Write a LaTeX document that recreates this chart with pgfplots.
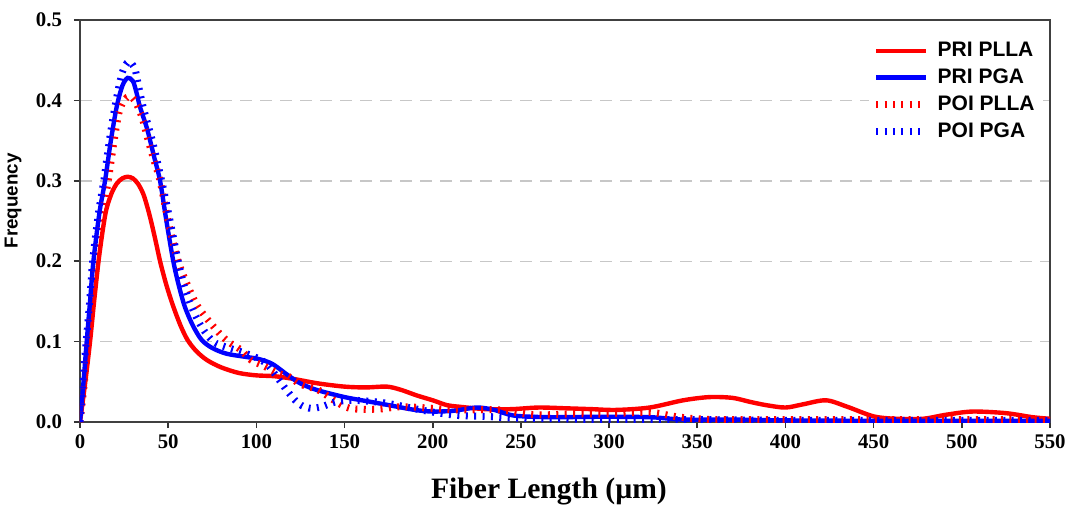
\documentclass[border=0pt]{standalone}
\usepackage{fontspec}
\setmainfont{Liberation Serif}
\setsansfont{Liberation Sans}
\usepackage{pgfplots}
\pgfplotsset{compat=1.18}
\definecolor{pred}{RGB}{255,0,0}
\definecolor{pblue}{RGB}{0,0,255}
\begin{document}
\begin{tikzpicture}
\begin{axis}[name=ax, scale only axis, width=485pt, height=201pt,
  xmin=0, xmax=550, ymin=0, ymax=0.5,
  xtick={0,50,100,150,200,250,300,350,400,450,500,550},
  ytick={0,0.1,0.2,0.3,0.4,0.5},
  tick align=outside, xtick pos=left, ytick pos=left,
  major tick length=3pt,
  tick style={black!80, line width=0.8pt},
  axis line style={black!75, line width=0.9pt},
  ymajorgrids, grid style={black!22, dash pattern=on 6pt off 4pt, line width=0.7pt},
  ticklabel style={font=\bfseries\fontsize{10.4}{12}\selectfont},
  /pgf/number format/assume math mode=true,
  yticklabel style={xshift=-2.5pt, /pgf/number format/.cd, fixed, fixed zerofill, precision=1},
  xlabel={Fiber Length (µm)}, ylabel={Frequency},
  xlabel style={font=\bfseries\fontsize{14.8}{16}\selectfont, at={(axis description cs:0.4835,-0.172)}, anchor=center},
  ylabel style={font=\sffamily\bfseries\fontsize{9.4}{11}\selectfont, at={(axis description cs:-0.069,0.55)}, anchor=center},
  legend style={at={(axis cs:546,0.483)}, anchor=north east, draw=none, fill=white,
    font=\sffamily\bfseries\fontsize{10.5}{12}\selectfont, row sep=0.6pt, inner sep=2pt},
  legend cell align=left,
  legend image code/.code={\draw[#1] (0pt,0pt) -- (25pt,0pt);},
  /tikz/every odd column/.append style={column sep=2pt},
  solid/.style={line width=2.2pt},
  dots/.style={line width=3.5pt, dash pattern=on 1pt off 3.2pt},
]
\addplot[pred, solid, smooth, tension=0.5] coordinates {
(0,0) (3,0.05) (5.7,0.1) (8,0.15) (10.5,0.2) (13,0.24) (15,0.265) (18,0.285) (21,0.297) (24,0.303) (27,0.305) (30,0.303) (33,0.296) (36,0.283) (38.5,0.265) (40.6,0.247) (43,0.224) (45.4,0.2) (48,0.178) (50,0.163) (53,0.143) (57,0.12) (61,0.102) (66,0.088) (72,0.077) (80,0.068) (90,0.061) (100,0.058) (110,0.057) (120,0.054) (135,0.048) (150,0.044) (162,0.043) (174,0.044) (182,0.04) (191,0.033) (200,0.027) (208,0.021) (215,0.019) (230,0.016) (245,0.016) (260,0.018) (276,0.017) (290,0.016) (304,0.015) (323,0.018) (342,0.027) (357,0.031) (370,0.03) (380,0.025) (389,0.021) (400,0.018) (410,0.022) (423,0.027) (435,0.019) (450,0.007) (463,0.004) (478,0.004) (491,0.009) (506,0.013) (525,0.011) (540,0.006) (550,0.004)
};
\addlegendentry{PRI PLLA}
\addplot[pblue, solid, smooth, tension=0.5] coordinates {
(0,0) (2,0.05) (3.8,0.1) (5.7,0.15) (7.6,0.2) (11,0.26) (14.2,0.3) (17.5,0.35) (20.8,0.392) (24,0.418) (27,0.428) (30,0.424) (32,0.41) (34,0.392) (38,0.365) (42,0.33) (45.4,0.3) (49,0.25) (52.9,0.2) (56,0.17) (59.5,0.143) (64,0.12) (69,0.102) (75,0.092) (83,0.085) (94,0.081) (100,0.079) (105,0.076) (110,0.071) (118,0.058) (125,0.048) (134,0.04) (150,0.031) (165,0.025) (175,0.021) (190,0.015) (200,0.013) (212,0.014) (225,0.018) (235,0.015) (246,0.008) (266,0.006) (295,0.0065) (323,0.006) (342,0.003) (370,0.003) (400,0.002) (450,0.0015) (500,0.0015) (550,0.0015)
};
\addlegendentry{PRI PGA}
\addplot[pred, dots, smooth, tension=0.5] coordinates {
(0,0) (2.5,0.05) (4.5,0.1) (7,0.15) (9.5,0.2) (13,0.26) (16,0.3) (19,0.345) (22,0.384) (25,0.4) (28,0.405) (31,0.4) (35,0.38) (38.7,0.35) (42,0.325) (45.4,0.3) (50,0.25) (55.7,0.2) (61,0.17) (67,0.143) (77.5,0.114) (84,0.1) (91,0.09) (97,0.077) (104,0.07) (113,0.06) (118,0.057) (125,0.047) (135,0.04) (144,0.027) (153,0.017) (169,0.016) (182,0.019) (200,0.017) (215,0.015) (238,0.015) (257,0.009) (280,0.01) (300,0.01) (323,0.012) (340,0.006) (360,0.003) (400,0.003) (450,0.003) (500,0.003) (550,0.003)
};
\addlegendentry{POI PLLA}
\addplot[pblue, dots, smooth, tension=0.5] coordinates {
(0,0) (2,0.06) (3.5,0.1) (5.5,0.15) (7.2,0.2) (10.5,0.26) (13.5,0.3) (17,0.355) (20.5,0.4) (24,0.435) (27.5,0.448) (31,0.44) (33,0.42) (36,0.39) (41,0.35) (46.3,0.3) (51,0.251) (55.7,0.2) (59,0.17) (63.3,0.143) (69,0.118) (75.6,0.1) (83,0.093) (91.8,0.087) (100,0.08) (106,0.072) (111,0.058) (117,0.04) (122,0.027) (126,0.02) (131,0.017) (137,0.019) (145,0.025) (155,0.027) (172,0.024) (191,0.016) (201,0.012) (215,0.008) (230,0.007) (245,0.005) (270,0.004) (300,0.003) (350,0.003) (400,0.002) (450,0.002) (500,0.002) (550,0.002)
};
\addlegendentry{POI PGA}
\end{axis}
\pgfresetboundingbox
\path[use as bounding box] ([shift={(-40pt,-43pt)}]ax.south west) rectangle ([shift={(9pt,10pt)}]ax.north east);
\end{tikzpicture}
\end{document}
